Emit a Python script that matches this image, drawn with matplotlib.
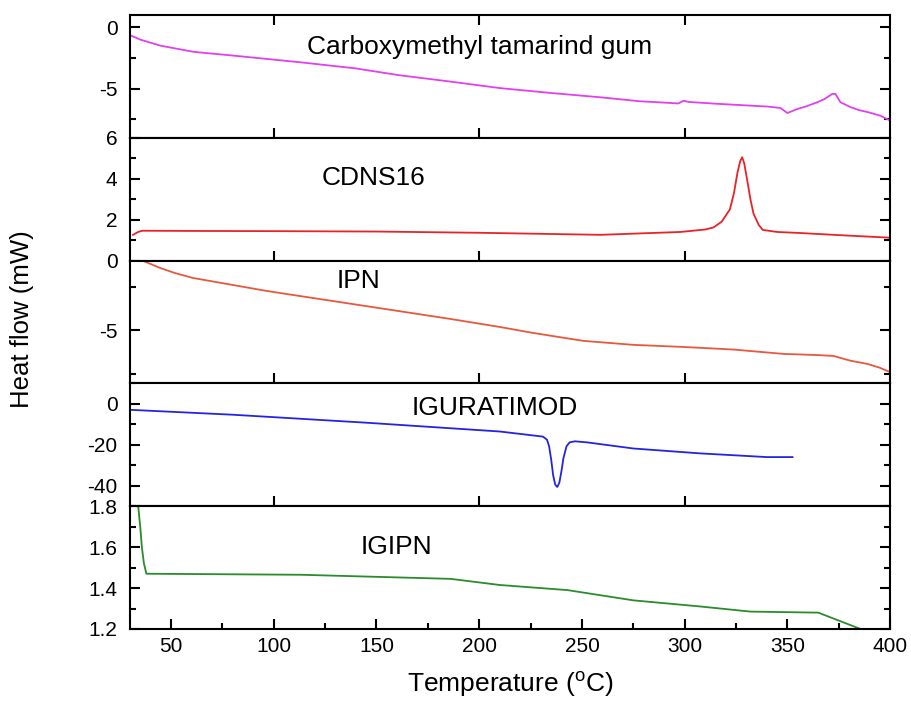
import matplotlib.pyplot as plt
from matplotlib.ticker import MultipleLocator, FixedLocator, NullLocator

plt.rcParams['font.family'] = ['Liberation Sans', 'DejaVu Sans']
plt.rcParams['mathtext.fontset'] = 'custom'
plt.rcParams['mathtext.rm'] = 'Liberation Sans'
plt.rcParams['axes.unicode_minus'] = False

# Carboxymethyl tamarind gum
cmtg_T = [30, 35, 45, 61, 80, 113, 140, 161, 185, 210, 235, 259, 278, 297, 299.4, 302, 315, 332,
          340, 346.6, 350, 354.9, 359, 364.6, 368, 371.9, 373.4, 375.8, 380.7, 385, 389, 395.3, 400]
cmtg_H = [-0.64, -1.0, -1.5, -2.0, -2.3, -2.85, -3.35, -3.9, -4.4, -4.95, -5.35, -5.7, -6.02, -6.2,
          -5.98, -6.08, -6.22, -6.38, -6.45, -6.57, -6.98, -6.65, -6.45, -6.1, -5.85, -5.42, -5.42,
          -6.1, -6.5, -6.75, -6.9, -7.2, -7.6]

# CDNS16
cdns_T = [31.5, 34, 36, 60, 100, 150, 200, 259, 298, 310, 314, 318, 322, 324, 325.7, 327, 328,
          329, 330.5, 332, 333.5, 336, 338, 345, 356, 380, 400]
cdns_H = [1.26, 1.4, 1.46, 1.45, 1.44, 1.42, 1.36, 1.26, 1.4, 1.52, 1.62, 1.9, 2.5, 3.3, 4.3,
          4.85, 5.05, 4.75, 3.9, 3.0, 2.3, 1.75, 1.5, 1.4, 1.35, 1.22, 1.12]

# IPN
ipn_T = [36.5, 44.6, 52, 60.7, 96.7, 145, 186, 210, 226, 250.6, 275, 299, 323.7, 348, 365,
         372.5, 380.6, 389, 395, 400]
ipn_H = [-1.0, -1.4, -1.7, -1.98, -2.73, -3.6, -4.34, -4.8, -5.14, -5.6, -5.83, -5.95, -6.1,
         -6.35, -6.42, -6.47, -6.74, -6.93, -7.15, -7.4]

# IGURATIMOD
igu_T = [30, 80, 145, 210, 231, 233, 234, 235, 236, 237, 238, 239, 240, 241, 242.5, 244,
         246.6, 252.4, 275, 307.6, 340, 352.5]
igu_H = [-2.9, -5.3, -9.2, -13.5, -16.0, -17.5, -20.7, -27.0, -35.0, -39.5, -40.6, -38.5,
         -33.0, -26.5, -20.7, -18.8, -18.3, -18.8, -21.8, -24.2, -26.0, -26.0]

# IGIPN
igipn_T = [33.5, 35.0, 35.8, 36.8, 38, 113, 186, 210, 243, 275, 307.6, 332, 365, 385.6, 390]
igipn_H = [1.85, 1.7, 1.6, 1.52, 1.47, 1.465, 1.445, 1.415, 1.39, 1.34, 1.31, 1.285, 1.28,
           1.2, 1.17]

series = [
    (cmtg_T, cmtg_H, '#e040ee', 'Carboxymethyl tamarind gum', (-9, 1), 5, 2.5, (0.46, 0.74)),
    (cdns_T, cdns_H, '#e82228', 'CDNS16', (0, 6), 2, 1, (0.32, 0.67)),
    (ipn_T, ipn_H, '#e8583e', 'IPN', (-8.05, -0.98), 5, 2.5, (0.30, 0.83)),
    (igu_T, igu_H, '#2424e0', 'IGURATIMOD', (-50, 10), 20, 10, (0.48, 0.80)),
    (igipn_T, igipn_H, '#2a8c2a', 'IGIPN', (1.2, 1.8), 0.2, 0.1, (0.35, 0.67)),
]

fig, axes = plt.subplots(5, 1, figsize=(9.12, 7.02), dpi=100)
fig.subplots_adjust(left=0.1425, right=0.976, bottom=0.104, top=0.9786, hspace=0)

for i, (ax, (T, H, color, name, ylim, major, minor, pos)) in enumerate(zip(axes, series)):
    ax.plot(T, H, color=color, lw=1.3)
    ax.set_xlim(30, 400)
    ax.set_ylim(*ylim)
    ax.yaxis.set_major_locator(MultipleLocator(major))
    ax.yaxis.set_minor_locator(MultipleLocator(minor))
    ax.text(pos[0], pos[1], name, transform=ax.transAxes, ha='center', va='center', fontsize=19)
    for s in ax.spines.values():
        s.set_linewidth(1.5)
    ax.tick_params(axis='y', which='both', direction='in', left=True, right=True, labelsize=15,
                   width=1.5, pad=9)
    ax.tick_params(axis='y', which='major', length=7)
    ax.tick_params(axis='y', which='minor', length=4)
    ax.tick_params(axis='x', which='both', direction='in', top=(i == 0), bottom=True, width=1.5, pad=6)
    ax.tick_params(axis='x', which='major', length=7)
    ax.tick_params(axis='x', which='minor', length=4)
    if i < 4:
        # inner panels only carry ticks every 100
        ax.xaxis.set_major_locator(FixedLocator([100, 200, 300]))
        ax.xaxis.set_minor_locator(NullLocator())
        ax.tick_params(axis='x', labelbottom=False)

axes[-1].xaxis.set_major_locator(MultipleLocator(50))
axes[-1].xaxis.set_minor_locator(MultipleLocator(25))
axes[-1].tick_params(axis='x', labelsize=15)
axes[-1].set_xlabel(r'Temperature ($^{\mathrm{o}}$C)', fontsize=19, labelpad=9)

fig.text(0.024, 0.545, 'Heat flow (mW)', rotation=90, ha='center', va='center', fontsize=18.5)

fig.savefig('out.png', dpi=100)
